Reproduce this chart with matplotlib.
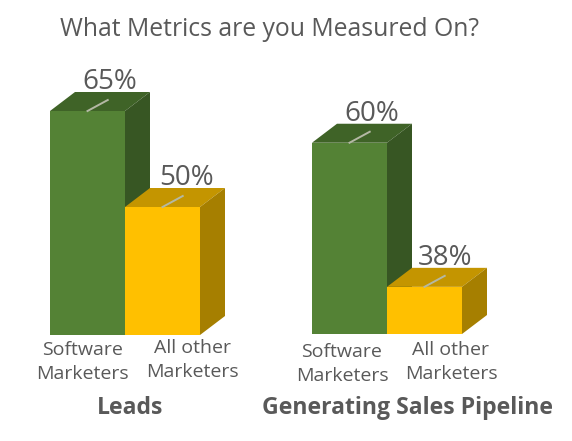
import matplotlib
matplotlib.use("Agg")
import matplotlib.pyplot as plt
from matplotlib.patches import Polygon

plt.rcParams['font.family'] = ['Open Sans', 'DejaVu Sans']

W, H = 572, 441
TXT = "#595959"

title = "What Metrics are you Measured On?"
groups = ["Leads", "Generating Sales Pipeline"]
bar_labels = ["Software\nMarketers", "All other\nMarketers"]
leads_vals = [65, 50]
pipeline_vals = [60, 38]

greens = ["#548235", "#3f6327", "#375623"]
yellows = ["#ffc000", "#c49500", "#a67f00"]

fig = plt.figure(figsize=(W / 100, H / 100), dpi=100)
fig.text(269 / W, 1 - 29 / H, title, fontsize=17.8, color=TXT, ha="center", va="center")


def draw_chart(left, base, px_per, ymin, vals, group, group_x, group_y, label_pos, pct_x):
    # axes 150 px wide, 1 unit = one bar
    height = 240
    ax = fig.add_axes([left / W, 1 - base / H, 150 / W, height / H])
    ax.set_xlim(0, 2)
    ax.set_ylim(ymin, ymin + height / px_per)
    ax.axis("off")
    dx = 25 / 75
    dy = 19 / px_per
    for i, (v, cols) in enumerate(zip(vals, [greens, yellows])):
        ax.bar(i, v - ymin, width=1, bottom=ymin, align="edge", color=cols[0], clip_on=False, zorder=3 + i)
        ax.add_patch(Polygon([(i, v), (i + dx, v + dy), (i + 1 + dx, v + dy), (i + 1, v)],
                             color=cols[1], clip_on=False, zorder=2 + i, lw=0))
        ax.add_patch(Polygon([(i + 1, v), (i + 1 + dx, v + dy), (i + 1 + dx, ymin + dy), (i + 1, ymin)],
                             color=cols[2], clip_on=False, zorder=2 + i, lw=0))
        ax.plot([i + 0.5, i + 0.77], [v, v + 11 / px_per], color="#b4b8a4", lw=1.4, clip_on=False, zorder=6)
        ax.text(pct_x[i], v + dy + 3 / px_per, f"{v}%", fontsize=20, color=TXT, ha="center", va="baseline",
                zorder=7, clip_on=False)
    for lab, (lx, ly) in zip(bar_labels, label_pos):
        fig.text(lx / W, 1 - ly / H, lab, fontsize=14, color=TXT, ha="center", va="center", linespacing=1.46)
    fig.text(group_x / W, 1 - group_y / H, group, fontsize=16.6, color=TXT, ha="center", va="center", fontweight="bold")


draw_chart(50, 335, 6.4, 30, leads_vals, groups[0], 130, 408, [(82.5, 362), (192.5, 360)], [0.79, 1.82])
draw_chart(312, 334, 6.55, 30.8, pipeline_vals, groups[1], 407, 408, [(342, 364), (451, 362)], [0.8, 1.77])

fig.savefig("out.png", dpi=100)
